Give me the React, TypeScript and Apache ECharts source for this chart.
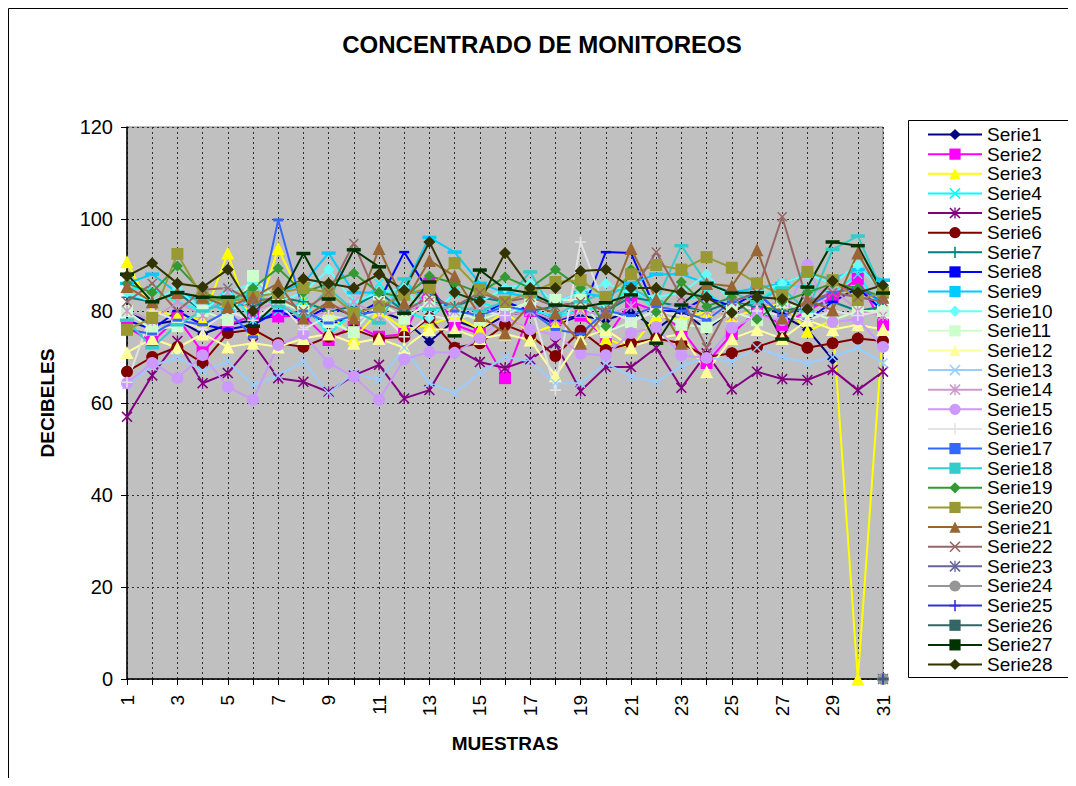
import React, { useEffect, useRef } from "react";
import * as echarts from "echarts";

const categories = ["1","2","3","4","5","6","7","8","9","10","11","12","13","14","15","16","17","18","19","20","21","22","23","24","25","26","27","28","29","30","31"];
const yTicks = { min: 0, max: 120, interval: 20 };

const serie1 = [80,77,78,75,77,78,79,80,77,79,80,78,73.3,78,76,79,80,77,79,78,80,76,80,76,80,82,79,76,69.5,null,null];
const serie2 = [76.5,73.3,78.5,71,77,79,78.8,79,73.7,77,74.4,75,86,77,75,65.4,80,78,79,74,82,80,76,68.7,75,80,77,80,83,87,77];
const serie3 = [90.7,80,79,78,92.6,76,93.6,82,80,74,80,76,77,79,76,80,75,77,80,74,72,79,78,80,79,80,82,75.6,78,0,76];
const serie4 = [85,84.7,82,80,85,78,80,82,74.8,80,86,80,78,84,82,80,80,79,80,81,85,80,82,84,80,82,86,85,84,88,80];
const serie5 = [57,66,73.5,64.3,66.5,73,65.4,64.6,62.4,66,68.3,61,62.8,72,68.9,67.6,69.5,73,62.6,67.8,67.8,72,63.3,70.8,63,66.8,65.2,65,67.2,62.8,66.8];
const serie6 = [66.8,70,72.2,68.7,75.2,76,73,72.2,74.4,76,74,74.4,78.5,72,73,77,74.8,70.2,75.7,71.5,73,74,73,70,70.8,72.2,74,72,73,74,73.5];
const serie7 = [83,82,84,80,82,81,83,82,80,81,84,80,82,81,83,82,80,81,82,80,83,82,81,80,82,81,80,81,82,80,81];
const serie8 = [78,76,80,77,76,77,80,78,81,79,82,92.8,84,80,79,82,80,78,79,92.8,92.6,80,80,83,81,84,79,78,82,85,80];
const serie9 = [86,88,84,82,80,83,84,86,92.6,84,84,85,96,92.8,86,84,83,82,84,83,86,88,88,86,84,85,86,88,87,89,86.7];
const serie10 = [84,82,85,80,84,86,82,84,89,82,84,85,78.5,84,82,85,86,82,84,86,84,83,84,88,82,84,86,88,86,90,84];
const serie11 = [80,75.9,76.7,80,78,87.6,82,80,77.6,75.4,82,78.3,82,80,78,80,82,82.4,82.4,75.4,77.6,80,77,76.5,80,78,82,80,78,80,80];
const serie12 = [71,74,72,75,72.2,73,72.2,74,75,73,74,72,76,76,74,75,73.7,65.9,74,76,72.2,74,75,66.8,74,76,74,78,76,77,76];
const serie13 = [64,68,70,67,69,63.9,66,69,62.1,66.5,65,72,64.3,62.2,66.5,70,69,64.3,64.3,68.7,65.7,64.6,68,70,69,72,70,68.7,70,72,68.7];
const serie14 = [80,78,82,79,84,80,82,78,80,82,79,80,82,80,81,79,80,78,80,79,81,80,82,80,79,81,82,84,85,80,79];
const serie15 = [64.3,68.7,65.4,70.4,63.5,60.7,72.6,75,68.7,65.7,60.7,69.5,71.1,70.9,74.1,78.8,76,74.8,70.7,70.4,75.2,76.5,70.4,69.8,76.3,79,78,90,77.6,78.2,72.2];
const serie16 = [64.5,80,78,76,80,78,82,76,79,78,80,74.4,79,78,80,79,82,62.8,95,80,78,80,79,78,82,80,79,78,80,79,80];
const serie17 = [76,75,78,77,80,74.4,99.8,80,77.4,79,80,84,84,80,79,81,80,76,75,80,79,81,80,78,82,84,79,81,84,85,82];
const serie18 = [78,72,77,80,82,84,81,79,85,80,77.4,87,80.4,81,80,82,88.5,79,82,84,85,82,94.2,86,84,82,85,80,93.4,96.3,84];
const serie19 = [86,84,89.8,84,82,85,89.3,84,86,88.2,84,83,87.6,86,84,87.4,85,89,85,76.7,89,79.8,86.3,81,83,78.2,82,84,86,85,83];
const serie20 = [75.9,78.5,92.4,83,82,83,83.9,85,84,79.5,81,83.5,85,90.4,84.7,82,84,86.3,86.7,83,88,90,89,91.7,89.4,86,83.5,88.5,86.7,82.4,84];
const serie21 = [85.3,82,84,83,81,83,86,78.5,82,78.5,93.6,81.7,91,87.6,79,75.2,81.5,79.5,73,79.8,93.6,82.6,73,86,85.4,93.3,78.5,82.4,80.2,92.6,83];
const serie22 = [82,86,80,84.6,85,82,83,80,84,94.7,82,80,83,81,84,82,83,81,82,80,84,92.8,83,72,82,84,100.5,82,84,83,82];
const serie23 = [null,null,null,null,null,null,null,null,null,null,null,null,null,null,null,null,null,null,null,null,null,null,null,null,null,null,null,null,null,null,0];
const serie24 = [null,null,null,null,null,null,null,null,null,null,null,null,null,null,null,null,null,null,null,null,null,null,null,null,null,null,null,null,null,null,0];
const serie25 = [null,null,null,null,null,null,null,null,null,null,null,null,null,null,null,null,null,null,null,null,null,null,null,null,null,null,null,null,null,null,0];
const serie26 = [null,null,null,null,null,null,null,null,null,null,null,null,null,null,null,null,null,null,null,null,null,null,null,null,null,null,null,null,null,null,0];
const serie27 = [88,82,84,83,83,76.7,82,92.5,82.6,93.3,89.6,79.5,86.3,74.6,88.9,84.8,83.9,81.3,80.8,81.8,83.5,73,81.3,86,83.9,84,73.9,85.2,95,94.2,83.9];
const serie28 = [87.6,90.4,86,85.2,89,80,84,87,86,85,88,84.5,95,84,82,92.6,85,85,88.7,89,85,85,84,83,79.6,83,82.6,80.4,86.5,84,85.6];

const seriesNames = ["Serie1","Serie2","Serie3","Serie4","Serie5","Serie6","Serie7","Serie8","Serie9","Serie10","Serie11","Serie12","Serie13","Serie14","Serie15","Serie16","Serie17","Serie18","Serie19","Serie20","Serie21","Serie22","Serie23","Serie24","Serie25","Serie26","Serie27","Serie28"];
const seriesData = [serie1,serie2,serie3,serie4,serie5,serie6,serie7,serie8,serie9,serie10,serie11,serie12,serie13,serie14,serie15,serie16,serie17,serie18,serie19,serie20,serie21,serie22,serie23,serie24,serie25,serie26,serie27,serie28];
const seriesColors = ["#000080","#FF00FF","#FFFF00","#00FFFF","#800080","#800000","#008080","#0000FF","#00CCFF","#66FFFF","#CCFFCC","#FFFF99","#99CCFF","#CC99CC","#CC99FF","#E3E3E3","#3366FF","#33CCCC","#339933","#999933","#996633","#996666","#666699","#969696","#3333CC","#336666","#003300","#333300"];

const X_SYM = "path://M0,1L1,0L5,4L9,0L10,1L6,5L10,9L9,10L5,6L1,10L0,9L4,5Z";
const AST_SYM = "path://M0,1L1,0L5,4L9,0L10,1L6,5L10,9L9,10L5,6L1,10L0,9L4,5Z M4.4,0H5.6V10H4.4Z";
const PLUS_SYM = "path://M4.3,0H5.7V4.3H10V5.7H5.7V10H4.3V5.7H0V4.3H4.3Z";
const HRECT_SYM = "path://M0,0H10V5H0Z";

const seriesSymbols: any[] = [
  ["diamond", 11], ["rect", 12], ["triangle", 13], [X_SYM, 10], [AST_SYM, 11], ["circle", 12], [PLUS_SYM, 11],
  [HRECT_SYM, [10, 5]], [HRECT_SYM, [14, 7]], ["diamond", 11], ["rect", 12], ["triangle", 13], [X_SYM, 10], [AST_SYM, 11],
  ["circle", 12], [PLUS_SYM, 11], [HRECT_SYM, [10, 6]], [HRECT_SYM, [14, 7]], ["diamond", 11], ["rect", 12], ["triangle", 13],
  [X_SYM, 10], [AST_SYM, 11], ["circle", 12], [PLUS_SYM, 11], [HRECT_SYM, [9, 6]], [HRECT_SYM, [14, 7]], ["diamond", 12]
];

const FONT = "'Liberation Sans', Arial, sans-serif";

export default function App() {
  const ref = useRef<HTMLDivElement>(null);
  useEffect(() => {
    if (!ref.current) return;
    const chart = echarts.init(ref.current, null, { renderer: "svg" });
    const series = seriesNames.map((name, i) => ({
      name,
      type: "line",
      data: seriesData[i],
      symbol: seriesSymbols[i][0],
      symbolSize: seriesSymbols[i][1],
      symbolKeepAspect: true,
      showSymbol: true,
      showAllSymbol: true,
      connectNulls: false,
      lineStyle: { color: seriesColors[i], width: 2 },
      itemStyle: { color: seriesColors[i], borderWidth: 0 },
      emphasis: { disabled: true },
      z: 2,
    }));
    chart.setOption({
      animation: false,
      title: {
        text: "CONCENTRADO DE MONITOREOS",
        left: "center",
        top: 24,
        padding: 0,
        textStyle: { fontFamily: FONT, fontSize: 24, fontWeight: "bold", color: "#000" },
      },
      legend: {
        orient: "vertical",
        left: 919,
        top: 117,
        padding: 0,
        itemWidth: 54,
        itemHeight: 14,
        itemGap: 0.63,
        selectedMode: false,
        data: seriesNames,
        textStyle: { fontFamily: FONT, fontSize: 19, color: "#000" },
      },
      grid: {
        left: 119,
        top: 119,
        width: 756,
        height: 552,
        show: true,
        backgroundColor: "#C0C0C0",
        borderColor: "#808080",
        borderWidth: 1,
      },
      xAxis: {
        type: "category",
        data: categories,
        boundaryGap: false,
        name: "MUESTRAS",
        nameLocation: "middle",
        nameGap: 55,
        nameTextStyle: { fontFamily: FONT, fontSize: 19, fontWeight: "bold", color: "#000" },
        axisLine: { lineStyle: { color: "#000", width: 1.5 } },
        axisTick: { show: true, interval: 0, length: 6, lineStyle: { color: "#000" } },
        axisLabel: { interval: 1, rotate: 90, margin: 16, fontFamily: FONT, fontSize: 19, color: "#000" },
        splitLine: { show: true, interval: 0, lineStyle: { color: "#303030", type: [2, 3], width: 1 } },
      },
      yAxis: {
        type: "value",
        min: yTicks.min,
        max: yTicks.max,
        interval: yTicks.interval,
        name: "DECIBELES",
        nameLocation: "middle",
        nameRotate: 90,
        nameGap: 70,
        nameTextStyle: { fontFamily: FONT, fontSize: 19, fontWeight: "bold", color: "#000" },
        axisLine: { show: true, lineStyle: { color: "#000", width: 1.5 } },
        axisTick: { show: true, length: 6, lineStyle: { color: "#000" } },
        axisLabel: { margin: 14, fontFamily: FONT, fontSize: 20, color: "#000" },
        splitLine: { show: true, lineStyle: { color: "#303030", type: [2, 3], width: 1 } },
      },
      graphic: [
        { type: "rect", shape: { x: 0.5, y: 0.5, width: 1200, height: 1200 }, style: { fill: "none", stroke: "#000", lineWidth: 1 }, silent: true },
        { type: "rect", shape: { x: 900.5, y: 112.5, width: 160, height: 557 }, style: { fill: "none", stroke: "#000", lineWidth: 1 }, silent: true, z: -1 },
      ],
      series,
    });
    return () => chart.dispose();
  }, []);
  return <div ref={ref} style={{ width: 1068, height: 770, overflow: "hidden" }} />;
}
